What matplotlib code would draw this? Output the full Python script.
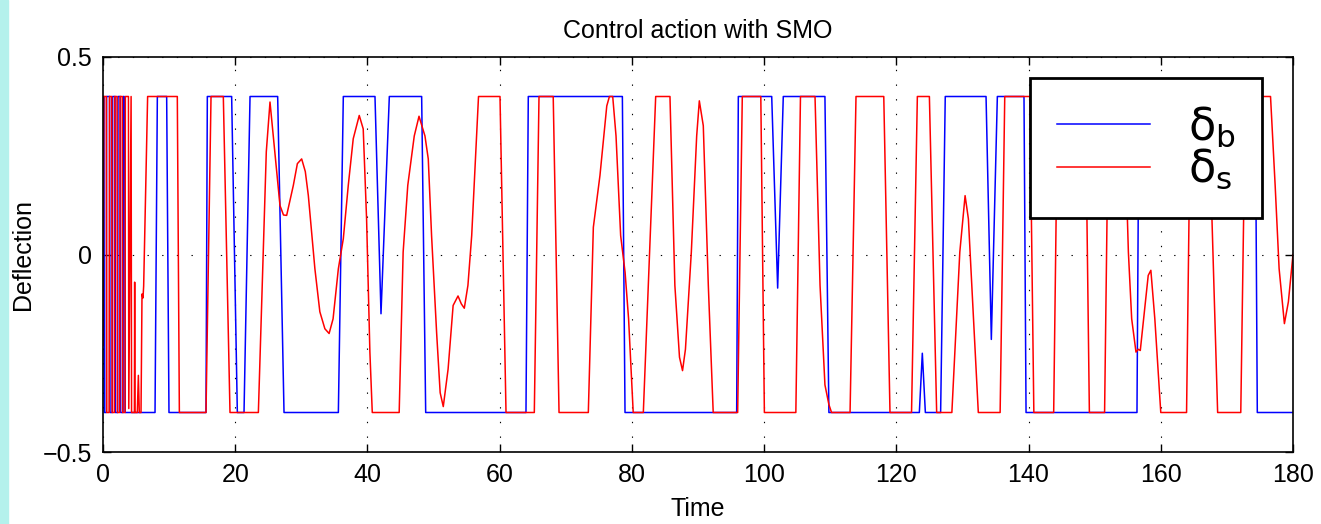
import matplotlib
matplotlib.use("Agg")
import matplotlib.pyplot as plt
from matplotlib.patches import Rectangle

plt.rcParams['font.family'] = ['Liberation Sans', 'DejaVu Sans']
plt.rcParams['mathtext.fontset'] = 'custom'
plt.rcParams['mathtext.rm'] = 'DejaVu Sans'
plt.rcParams['mathtext.it'] = 'DejaVu Sans'
plt.rcParams['mathtext.bf'] = 'DejaVu Sans:bold'

# delta_b (blue) - bang-bang with a few shallow dips
t_b = [0, 0.05, 0.15, 0.2, 0.5, 0.55, 1.0, 1.06, 1.4, 1.46,
       1.82, 1.87, 2.22, 2.27, 2.62, 2.67, 3.03, 3.08, 3.2, 3.3,
       3.36, 7.87, 8.22, 9.63, 9.98, 15.58, 15.78, 19.46, 20.32, 21.33,
       22.24, 26.42, 27.38, 35.6, 36.35, 41.14, 42.05, 43.31, 48.2, 48.81,
       63.98, 64.33, 78.56, 78.96, 95.85, 96.1, 101.15, 102.05, 102.9, 109.2,
       109.8, 123.48, 123.93, 124.39, 126.7, 127.4, 133.57, 134.37, 135.28, 139.31,
       139.62, 156.4, 156.7, 174.3, 174.6, 180]
delta_b = [0, 0.4, 0.4, -0.4, -0.4, 0.4, 0.4, -0.4, -0.4, 0.4,
           0.4, -0.4, -0.4, 0.4, 0.4, -0.4, -0.4, 0.4, 0.4, 0.27,
           -0.4, -0.4, 0.4, 0.4, -0.4, -0.4, 0.4, 0.4, -0.4, -0.4,
           0.4, 0.4, -0.4, -0.4, 0.4, 0.4, -0.15, 0.4, 0.4, -0.4,
           -0.4, 0.4, 0.4, -0.4, -0.4, 0.4, 0.4, -0.085, 0.4, 0.4,
           -0.4, -0.4, -0.25, -0.4, -0.4, 0.4, 0.4, -0.215, 0.4, 0.4,
           -0.4, -0.4, 0.4, 0.4, -0.4, -0.4]

# delta_s (red)
t_s = [0, 0.12, 0.5, 0.57, 0.92, 0.98, 1.32, 1.38, 1.72, 1.78,
       2.12, 2.18, 2.52, 2.58, 2.92, 2.98, 3.33, 3.38, 3.85, 3.9,
       4.25, 4.32, 4.75, 4.79, 4.83, 5.19, 5.35, 5.49, 5.75, 5.9,
       6.05, 6.15, 6.75,
       11.24, 11.55, 15.58, 16.34, 18.2, 19.21, 23.5, 24.7, 25.26, 26.0,
       26.77, 27.3, 27.78, 28.79, 29.4, 30.05, 30.6, 31.06, 32.05, 32.8,
       33.56, 34.2, 34.8, 35.6, 36.35, 37.1, 37.85, 38.76, 39.36, 39.87,
       40.37, 40.73, 44.8, 45.4, 46.1, 47.08, 47.8, 48.7, 49.2, 49.7,
       50.47, 51.0, 51.47, 52.2, 52.96, 53.7, 54.2, 54.65, 55.2, 55.77,
       56.8, 60.05, 60.96, 65.24, 65.95, 68.1, 68.98, 73.41, 74.17, 75.17,
       76.2, 76.6, 77.1, 77.6, 78.3, 78.97, 79.5, 80.2, 81.73, 83.6,
       85.76, 86.5, 87.2, 87.66, 88.1, 88.99, 89.8, 90.2, 90.8, 91.56,
       92.3, 96.0, 96.7, 99.5, 100.04, 104.8, 105.5, 107.7, 108.46, 109.2,
       109.8, 110.2, 113.0, 113.9, 118.1, 119.04, 122.3, 123.18, 125.0, 126.1,
       128.4, 129.6, 130.4, 130.9, 132.4, 135.7, 136.4, 140.2, 140.8, 143.8,
       144.4, 148.6, 149.2, 151.5, 152.1, 154.4, 155.1, 155.6, 156.25, 156.6,
       156.9, 157.4, 158.1, 158.5, 159.1, 160.0, 163.9, 164.5, 167.2, 168.6,
       172.1, 172.8, 176.6, 177.3, 177.9, 178.7, 179.3, 180.0]
delta_s = [-0.23, 0.4, 0.4, -0.4, -0.4, 0.4, 0.4, -0.4, -0.4, 0.4,
           0.4, -0.4, -0.4, 0.4, 0.4, -0.4, -0.4, 0.4, 0.4, -0.39,
           0.4, -0.4, -0.4, -0.07, -0.4, -0.4, -0.306, -0.4, -0.4, -0.1,
           -0.11, -0.08, 0.4,
           0.4, -0.4, -0.4, 0.4, 0.4, -0.4, -0.4, 0.26, 0.386, 0.259,
           0.124, 0.1, 0.099, 0.175, 0.23, 0.242, 0.21, 0.149, -0.036, -0.145,
           -0.188, -0.2, -0.163, -0.036, 0.04, 0.175, 0.293, 0.352, 0.318, 0.09,
           -0.247, -0.4, -0.4, 0.006, 0.175, 0.3, 0.35, 0.3, 0.242, 0.048,
           -0.2, -0.35, -0.385, -0.29, -0.129, -0.105, -0.125, -0.136, -0.078, 0.048,
           0.4, 0.4, -0.4, -0.4, 0.4, 0.4, -0.4, -0.4, 0.069, 0.2,
           0.376, 0.4, 0.4, 0.3, 0.048, -0.045, -0.163, -0.4, -0.4, 0.4,
           0.4, -0.078, -0.26, -0.294, -0.24, 0.006, 0.3, 0.389, 0.326, -0.078,
           -0.4, -0.4, 0.4, 0.4, -0.4, -0.4, 0.4, 0.4, -0.078, -0.33,
           -0.38, -0.4, -0.4, 0.4, 0.4, -0.4, -0.4, 0.4, 0.4, -0.4,
           -0.4, 0.006, 0.149, 0.09, -0.4, -0.4, 0.4, 0.4, -0.4, -0.4,
           0.4, 0.4, -0.4, -0.4, 0.4, 0.4, 0.006, -0.163, -0.247, -0.24,
           -0.243, -0.163, -0.053, -0.04, -0.163, -0.4, -0.4, 0.4, 0.4, -0.4,
           -0.4, 0.4, 0.4, 0.175, -0.036, -0.175, -0.12, 0.0]

x_ticks = [0, 20, 40, 60, 80, 100, 120, 140, 160, 180]
y_ticks = [-0.5, 0, 0.5]
y_tick_labels = ['\u22120.5', '0', '0.5']

fig = plt.figure(figsize=(13.21, 5.24), dpi=100)
ax = fig.add_axes([103 / 1321, 72 / 524, 1190 / 1321, 395 / 524])

# screenshot edge strip
fig.patches.append(Rectangle((0, 0), 8 / 1321, 1, transform=fig.transFigure,
                             color='#b4f1ec', zorder=0))

ax.plot(t_b, delta_b, color='#0000ff', lw=1.1, label=r'$\delta_b$')
ax.plot(t_s, delta_s, color='#ff0000', lw=1.1, label=r'$\delta_s$')

ax.set_xlim(0, 180)
ax.set_ylim(-0.5, 0.5)
ax.set_xticks(x_ticks)
ax.set_yticks(y_ticks)
ax.set_yticklabels(y_tick_labels)
ax.tick_params(direction='in', length=6, width=1, top=True, right=True,
               labelsize=18, pad=8)
ax.grid(True, color='black', linestyle=(0, (1.2, 12)), lw=0.8)
for s in ax.spines.values():
    s.set_linewidth(1.2)

ax.set_title('Control action with SMO', fontsize=18, pad=14)
ax.set_xlabel('Time', fontsize=18, labelpad=7)
ax.set_ylabel('Deflection', fontsize=18)
ax.yaxis.set_label_coords(-0.057, 0.5)

leg = ax.legend(loc='upper left', bbox_to_anchor=((1030 - 103) / 1190, (452 - 78) / 395),
                fontsize=32, handlelength=2.1, handletextpad=0.85, borderpad=0.6,
                labelspacing=-0.05, fancybox=False, framealpha=1, borderaxespad=0)
leg.get_frame().set_edgecolor('black')
leg.get_frame().set_linewidth(2)

fig.savefig('out.png', dpi=100)
